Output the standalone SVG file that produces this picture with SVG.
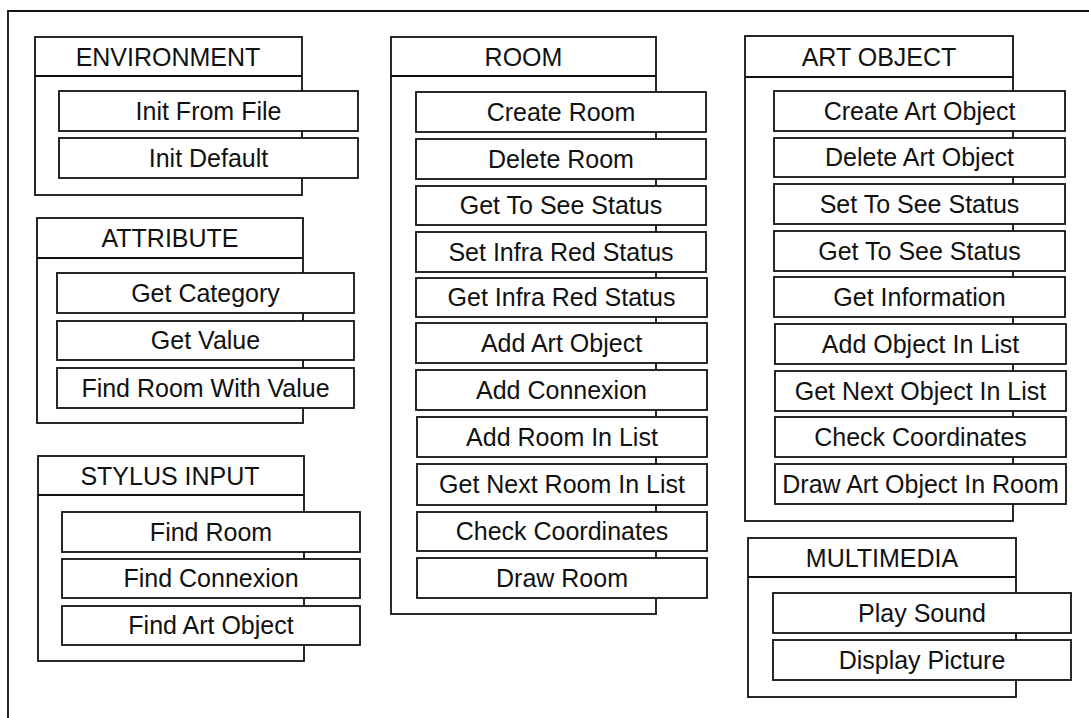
<svg xmlns="http://www.w3.org/2000/svg" width="1089" height="718" viewBox="0 0 1089 718">
<style>
.frame{fill:none;stroke:#111;stroke-width:1.8}
.box{fill:none;stroke:#111;stroke-width:1.8}
.item{fill:#fff;stroke:#111;stroke-width:1.8}
.t{font-family:"Liberation Sans",Arial,sans-serif;font-size:25px;fill:#111;text-anchor:middle}
</style>
<rect width="1089" height="718" fill="#fff"/>
<path class="frame" d="M8,718 V11 H1089"/>
<g id="connectors"/>

<g id="environment">
<rect class="box" x="35" y="37" width="267" height="158"/>
<line class="box" x1="35" y1="76" x2="302" y2="76"/>
<text class="t" x="168" y="66">ENVIRONMENT</text>
<g id="env-init-from-file"><rect class="item" x="59" y="91" width="299" height="40"/><text class="t" x="208.5" y="120">Init From File</text></g>
<g id="env-init-default"><rect class="item" x="59" y="138" width="299" height="40"/><text class="t" x="208.5" y="167">Init Default</text></g>
</g>

<g id="attribute">
<rect class="box" x="37" y="218" width="266" height="205"/>
<line class="box" x1="37" y1="258" x2="303" y2="258"/>
<text class="t" x="170" y="247">ATTRIBUTE</text>
<g id="attr-get-category"><rect class="item" x="57" y="273" width="297" height="40"/><text class="t" x="205.5" y="302">Get Category</text></g>
<g id="attr-get-value"><rect class="item" x="57" y="321" width="297" height="39"/><text class="t" x="205.5" y="349">Get Value</text></g>
<g id="attr-find-room-with-value"><rect class="item" x="57" y="368" width="297" height="40"/><text class="t" x="205.5" y="397">Find Room With Value</text></g>
</g>

<g id="stylus-input">
<rect class="box" x="38" y="456" width="266" height="205"/>
<line class="box" x1="38" y1="495" x2="304" y2="495"/>
<text class="t" x="170" y="485">STYLUS INPUT</text>
<g id="stylus-find-room"><rect class="item" x="62" y="512" width="298" height="40"/><text class="t" x="211" y="541">Find Room</text></g>
<g id="stylus-find-connexion"><rect class="item" x="62" y="559" width="298" height="39"/><text class="t" x="211" y="587">Find Connexion</text></g>
<g id="stylus-find-art-object"><rect class="item" x="62" y="606" width="298" height="39"/><text class="t" x="211" y="634">Find Art Object</text></g>
</g>

<g id="room">
<rect class="box" x="391" y="37" width="265" height="577"/>
<line class="box" x1="391" y1="76" x2="656" y2="76"/>
<text class="t" x="523.5" y="66">ROOM</text>
<g id="room-create"><rect class="item" x="416" y="92" width="290" height="40"/><text class="t" x="561" y="121">Create Room</text></g>
<g id="room-delete"><rect class="item" x="416" y="139" width="290" height="40"/><text class="t" x="561" y="168">Delete Room</text></g>
<g id="room-get-to-see"><rect class="item" x="416" y="186" width="290" height="39"/><text class="t" x="561" y="214">Get To See Status</text></g>
<g id="room-set-infra"><rect class="item" x="416" y="232" width="290" height="40"/><text class="t" x="561" y="261">Set Infra Red Status</text></g>
<g id="room-get-infra"><rect class="item" x="416" y="278" width="291" height="39"/><text class="t" x="561.5" y="306">Get Infra Red Status</text></g>
<g id="room-add-art-object"><rect class="item" x="416" y="323" width="291" height="40"/><text class="t" x="561.5" y="352">Add Art Object</text></g>
<g id="room-add-connexion"><rect class="item" x="416" y="370" width="291" height="40"/><text class="t" x="561.5" y="399">Add Connexion</text></g>
<g id="room-add-room-in-list"><rect class="item" x="417" y="417" width="290" height="40"/><text class="t" x="562" y="446">Add Room In List</text></g>
<g id="room-get-next-room"><rect class="item" x="417" y="464" width="290" height="41"/><text class="t" x="562" y="493">Get Next Room In List</text></g>
<g id="room-check-coordinates"><rect class="item" x="417" y="512" width="290" height="39"/><text class="t" x="562" y="540">Check Coordinates</text></g>
<g id="room-draw"><rect class="item" x="417" y="558" width="290" height="40"/><text class="t" x="562" y="587">Draw Room</text></g>
</g>

<g id="art-object">
<rect class="box" x="745" y="36" width="268" height="485"/>
<line class="box" x1="745" y1="77" x2="1013" y2="77"/>
<text class="t" x="879" y="66">ART OBJECT</text>
<g id="art-create"><rect class="item" x="774" y="91" width="291" height="40"/><text class="t" x="919.5" y="120">Create Art Object</text></g>
<g id="art-delete"><rect class="item" x="774" y="138" width="291" height="39"/><text class="t" x="919.5" y="166">Delete Art Object</text></g>
<g id="art-set-to-see"><rect class="item" x="774" y="184" width="291" height="40"/><text class="t" x="919.5" y="213">Set To See Status</text></g>
<g id="art-get-to-see"><rect class="item" x="774" y="231" width="291" height="40"/><text class="t" x="919.5" y="260">Get To See Status</text></g>
<g id="art-get-information"><rect class="item" x="774" y="277" width="291" height="40"/><text class="t" x="919.5" y="306">Get Information</text></g>
<g id="art-add-object-in-list"><rect class="item" x="775" y="324" width="291" height="40"/><text class="t" x="920.5" y="353">Add Object In List</text></g>
<g id="art-get-next-object"><rect class="item" x="775" y="371" width="291" height="40"/><text class="t" x="920.5" y="400">Get Next Object In List</text></g>
<g id="art-check-coordinates"><rect class="item" x="775" y="417" width="291" height="40"/><text class="t" x="920.5" y="446">Check Coordinates</text></g>
<g id="art-draw-in-room"><rect class="item" x="775" y="464" width="291" height="40"/><text class="t" x="920.5" y="493">Draw Art Object In Room</text></g>
</g>

<g id="multimedia">
<rect class="box" x="748" y="538" width="268" height="159"/>
<line class="box" x1="748" y1="577" x2="1016" y2="577"/>
<text class="t" x="882" y="567">MULTIMEDIA</text>
<g id="mm-play-sound"><rect class="item" x="773" y="593" width="298" height="40"/><text class="t" x="922" y="622">Play Sound</text></g>
<g id="mm-display-picture"><rect class="item" x="773" y="640" width="298" height="40"/><text class="t" x="922" y="669">Display Picture</text></g>
</g>
</svg>
